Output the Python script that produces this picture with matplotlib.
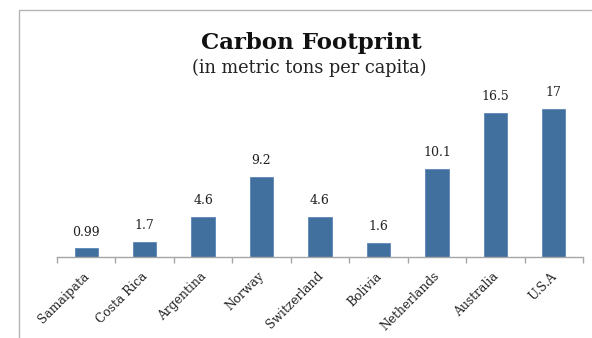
import matplotlib.pyplot as plt
from matplotlib.patches import Rectangle

countries = ["Samaipata", "Costa Rica", "Argentina", "Norway", "Switzerland",
             "Bolivia", "Netherlands", "Australia", "U.S.A"]
values = [0.99, 1.7, 4.6, 9.2, 4.6, 1.6, 10.1, 16.5, 17]
value_labels = ["0.99", "1.7", "4.6", "9.2", "4.6", "1.6", "10.1", "16.5", "17"]

serif = "DejaVu Serif"
bar_color = "#41709f"
axis_gray = "#a6a6a6"

fig = plt.figure(figsize=(5.92, 3.38), dpi=100)

# light frame around the chart area (left and top edges visible)
fig.patches.append(Rectangle((19 / 592, -0.1), 1.2, 1 - 10 / 338 + 0.1,
                             transform=fig.transFigure, fill=False,
                             edgecolor="#b4b4b4", linewidth=1.0))

ax = fig.add_axes([57 / 592, 81 / 338, 526 / 592, 157 / 338])

pos = [i + 0.5 for i in range(len(countries))]
ax.bar(pos, values, width=0.4, color=bar_color, edgecolor="#5a86b8",
       linewidth=0.6)

for x, v, lab in zip(pos, values, value_labels):
    ax.annotate(lab, (x, v), xytext=(0, 7), textcoords="offset points",
                ha="center", va="bottom", fontsize=9, family=serif,
                color="#222222")

ax.set_xlim(0, len(countries))
ax.set_ylim(0, 18)

for s in ["top", "right", "left"]:
    ax.spines[s].set_visible(False)
ax.spines["bottom"].set_color(axis_gray)
ax.spines["bottom"].set_linewidth(1.0)
ax.set_yticks([])

ax.set_xticks(range(len(countries) + 1))
ax.set_xticklabels([])
ax.tick_params(axis="x", which="major", length=4, color=axis_gray, width=1.0)
ax.set_xticks([p - 0.06 for p in pos], minor=True)
ax.set_xticklabels(countries, minor=True, rotation=45, ha="right", va="top",
                   rotation_mode="anchor", fontsize=8.8, family=serif,
                   color="#222222")
ax.tick_params(axis="x", which="minor", length=0, pad=9)

fig.text(311 / 592, 1 - 49 / 338, "Carbon Footprint", ha="center",
         va="baseline", fontsize=16.5, fontweight="bold", family=serif,
         color="#111111")
fig.text(309 / 592, 1 - 73 / 338, "(in metric tons per capita)", ha="center",
         va="baseline", fontsize=12.8, family=serif, color="#222222")

fig.savefig("out.png", dpi=100)
